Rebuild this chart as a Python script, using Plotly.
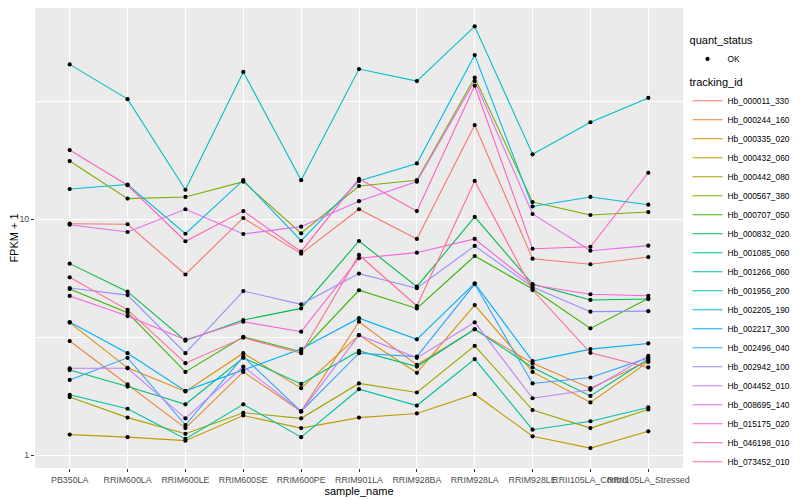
import plotly.graph_objects as go

samples = ["PB350LA", "RRIM600LA", "RRIM600LE", "RRIM600SE", "RRIM600PE", "RRIM901LA",
           "RRIM928BA", "RRIM928LA", "RRIM928LE", "RRII105LA_Control", "RRII105LA_Stressed"]

tracking_ids = ["Hb_000011_330", "Hb_000244_160", "Hb_000335_020", "Hb_000432_060",
                "Hb_000442_080", "Hb_000567_380", "Hb_000707_050", "Hb_000832_020",
                "Hb_001085_060", "Hb_001266_060", "Hb_001956_200", "Hb_002205_190",
                "Hb_002217_300", "Hb_002496_040", "Hb_002942_100", "Hb_004452_010",
                "Hb_008695_140", "Hb_015175_020", "Hb_046198_010", "Hb_073452_010"]

colors = ["#F8766D", "#EA8331", "#D89000", "#C09B00", "#A3A500", "#7CAE00", "#39B600",
          "#00BB4E", "#00BF7D", "#00C1A3", "#00BFC4", "#00BAE0", "#00B0F6", "#35A2FF",
          "#9590FF", "#C77CFF", "#E76BF3", "#FA62DB", "#FF62BC", "#FF6C91"]

# FPKM + 1 per sample
hb_000011_330 = [9.55, 9.50, 5.82, 10.1, 7.13, 11.0, 8.23, 25.0, 6.79, 6.43, 6.90]
hb_000244_160 = [3.04, 1.99, 1.30, 2.25, 1.53, 3.67, 2.41, 3.41, 2.45, 1.92, 2.50]
hb_000335_020 = [3.64, 2.34, 1.86, 2.70, 1.92, 3.22, 2.23, 4.32, 2.25, 1.67, 2.48]
hb_000432_060 = [1.22, 1.19, 1.15, 1.47, 1.30, 1.44, 1.50, 1.81, 1.20, 1.07, 1.26]
hb_000442_080 = [1.76, 1.44, 1.23, 1.51, 1.43, 2.01, 1.84, 2.90, 1.55, 1.30, 1.56]
hb_000567_380 = [17.6, 12.2, 12.4, 14.4, 8.70, 13.8, 14.6, 39.7, 11.8, 10.4, 10.7]
hb_000707_050 = [5.05, 4.01, 2.25, 3.17, 2.74, 4.99, 4.18, 6.97, 5.05, 3.44, 4.60]
hb_000832_020 = [6.47, 4.92, 3.05, 3.73, 4.18, 8.07, 5.17, 10.2, 5.30, 4.54, 4.58]
hb_001085_060 = [2.29, 1.95, 1.64, 2.58, 2.00, 2.76, 2.37, 3.41, 2.35, 1.78, 2.55]
hb_001266_060 = [1.80, 1.57, 1.17, 1.64, 1.19, 1.90, 1.62, 2.55, 1.28, 1.39, 1.59]
hb_001956_200 = [45.2, 32.2, 13.3, 42.0, 14.6, 43.2, 38.4, 65.5, 18.8, 25.7, 32.6]
hb_002205_190 = [13.4, 14.0, 8.66, 14.6, 8.09, 14.5, 17.2, 49.5, 11.3, 12.4, 11.5]
hb_002217_300 = [3.66, 2.70, 1.87, 2.29, 2.81, 3.80, 3.09, 5.34, 2.50, 2.81, 2.97]
hb_002496_040 = [2.08, 2.58, 1.34, 2.61, 1.53, 2.70, 2.61, 5.30, 2.01, 2.13, 2.58]
hb_002942_100 = [5.10, 4.76, 2.70, 4.95, 4.35, 5.87, 5.09, 7.69, 5.15, 4.05, 4.07]
hb_004452_010 = [2.33, 2.33, 1.43, 2.37, 1.53, 3.22, 2.58, 3.65, 1.74, 1.89, 2.63]
hb_008695_140 = [9.46, 8.81, 11.0, 8.64, 9.28, 11.9, 14.4, 38.4, 10.5, 7.34, 7.71]
hb_015175_020 = [4.72, 3.88, 3.08, 3.67, 3.33, 6.82, 7.20, 8.23, 5.25, 4.80, 4.73]
hb_046198_010 = [19.6, 13.9, 8.05, 10.8, 7.27, 14.8, 10.8, 36.7, 7.48, 7.63, 15.7]
hb_073452_010 = [5.66, 4.12, 2.45, 3.14, 2.70, 7.04, 4.28, 14.5, 5.00, 2.71, 2.35]

series = [hb_000011_330, hb_000244_160, hb_000335_020, hb_000432_060, hb_000442_080,
          hb_000567_380, hb_000707_050, hb_000832_020, hb_001085_060, hb_001266_060,
          hb_001956_200, hb_002205_190, hb_002217_300, hb_002496_040, hb_002942_100,
          hb_004452_010, hb_008695_140, hb_015175_020, hb_046198_010, hb_073452_010]

quant_status = "OK"

fig = go.Figure()
for tid, col, vals in zip(tracking_ids, colors, series):
    fig.add_trace(go.Scatter(x=samples, y=vals, mode="lines", name=tid,
                             line=dict(color=col, width=1.1), legend="legend2"))

all_x = [s for vals in series for s in samples]
all_y = [v for vals in series for v in vals]
fig.add_trace(go.Scatter(x=all_x, y=all_y, mode="markers", name=quant_status,
                         marker=dict(color="black", size=4.2), legend="legend"))

tickfont = dict(family="Liberation Sans, Arial, sans-serif", size=8.8, color="#4D4D4D")

# the page body adds an 8px offset; the figure is sized so the panel lands where the reference has it
fig.update_layout(
    width=792, height=492,
    margin=dict(l=27, r=117, t=0, b=32),
    paper_bgcolor="white", plot_bgcolor="#EBEBEB",
    font=dict(family="Liberation Sans, Arial, sans-serif", size=11, color="black"),
    showlegend=True,
    xaxis=dict(type="category", range=[-0.6, 10.6], showgrid=True, gridcolor="white",
               gridwidth=1.3, ticks="outside", ticklen=3, tickwidth=1, tickcolor="#333333",
               tickfont=tickfont, tickangle=0, zeroline=False, showline=False,
               automargin=False,
               title=dict(text="sample_name", font=dict(size=11), standoff=0)),
    yaxis=dict(type="log", range=[-0.0551, 1.8941], tickmode="array", tickvals=[1, 10],
               ticktext=["1", "10"], showgrid=True, gridcolor="white", gridwidth=1.3,
               ticks="outside", ticklen=3, tickwidth=1, tickcolor="#333333",
               tickfont=tickfont, zeroline=False, showline=False, automargin=False,
               minor=dict(tickmode="array", tickvals=[10 ** 0.5, 10 ** 1.5], showgrid=True,
                          gridcolor="white", gridwidth=0.7, ticks=""),
               title=dict(text="FPKM + 1", font=dict(size=11), standoff=2)),
    legend=dict(title=dict(text="quant_status", font=dict(size=11)),
                x=1.007, xanchor="left", y=0.952, yanchor="top",
                font=dict(size=8.4), bgcolor="rgba(0,0,0,0)", itemwidth=30),
    legend2=dict(title=dict(text="tracking_id", font=dict(size=11)),
                 x=1.007, xanchor="left", y=0.861, yanchor="top",
                 font=dict(size=8.4), bgcolor="rgba(0,0,0,0)", itemwidth=30,
                 tracegroupgap=0),
)

fig.write_html("out.html")
